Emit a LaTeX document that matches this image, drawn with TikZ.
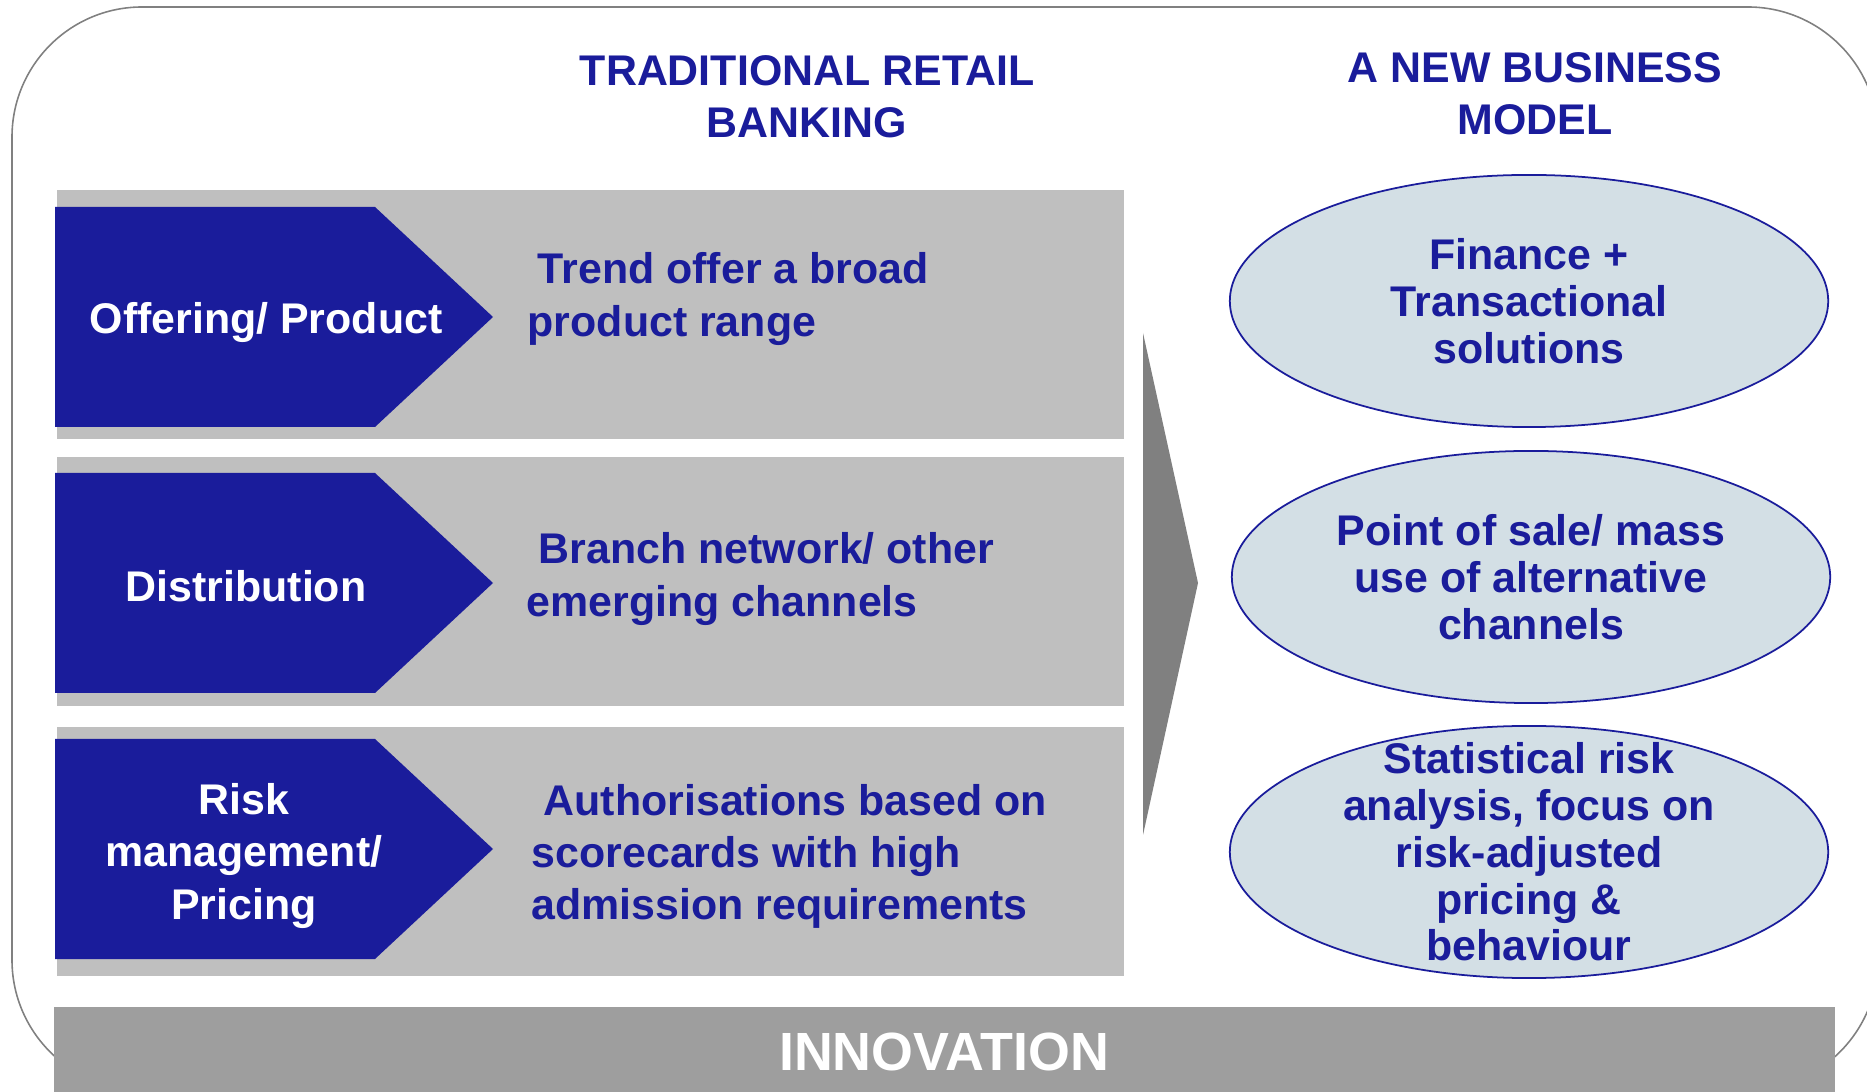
\documentclass[tikz,border=0pt]{standalone}
\usepackage{fontspec}
\setmainfont{Liberation Sans}
\definecolor{bankblue}{RGB}{26,28,155}
\definecolor{rowgray}{RGB}{191,191,191}
\definecolor{arrowgray}{RGB}{128,128,128}
\definecolor{bargray}{RGB}{158,158,158}
\definecolor{bubblefill}{RGB}{211,223,229}
\tikzset{
  heading/.style={text=bankblue, font=\bfseries\fontsize{12.2}{14.8}\selectfont, align=center, inner sep=0pt},
  tag/.style={text=white, font=\bfseries\fontsize{12.2}{14.8}\selectfont, align=center, inner sep=0pt},
  desc/.style={text=bankblue, font=\bfseries\fontsize{12.2}{14.8}\selectfont, align=left, anchor=west, inner sep=0pt},
  bubble/.style={ellipse, draw=bankblue, line width=0.5pt, fill=bubblefill, minimum width=5.98cm, minimum height=2.52cm, inner sep=0pt},
  bubbletext/.style={text=bankblue, font=\bfseries\fontsize{12.2}{13.3}\selectfont, align=center, inner sep=0pt}
}
\usetikzlibrary{shapes.geometric}
\begin{document}
\begin{tikzpicture}[x=0.01cm, y=-0.01cm]
  \useasboundingbox (0,0) rectangle (1867,1092);
  \clip (0,0) rectangle (1867,1092);
  % outer frame
  \draw[arrowgray, line width=0.45pt, rounded corners=1.3cm] (12,7) rectangle (1878,1090);

  \node[heading] (trad) at (807,97) {TRADITIONAL RETAIL\\BANKING};
  \node[heading] (newmodel) at (1535,94) {A NEW BUSINESS\\MODEL};

  % rows
  \foreach \y in {190,457,727}
    \fill[rowgray] (57,\y) rectangle ++(1067,249);
  \foreach \c in {317,583,849}
    \fill[bankblue] (55,\c-110) -- (375,\c-110) -- (493,\c) -- (375,\c+110) -- (55,\c+110) -- cycle;

  \node[tag] (offer) at (266,323) {Offering/ Product};
  \node[tag] (distrib) at (246,586) {Distribution};
  \node[tag] (risk) at (244,856) {Risk\\management/\\Pricing};

  \node[desc] (trend) at (527,299) {\hspace*{0.1cm}Trend offer a broad\\product range};
  \node[desc] (branch) at (526,579) {\hspace*{0.12cm}Branch network/ other\\emerging channels};
  \node[desc] (auth) at (531,856) {\hspace*{0.12cm}Authorisations based on\\scorecards with high\\admission requirements};

  % big arrow
  \fill[arrowgray] (1143,333) -- (1198,583) -- (1143,835) -- cycle;

  \node[bubble, label={[bubbletext]center:{Finance +\\Transactional\\solutions}}] (finance) at (1529,301) {};
  \node[bubble, label={[bubbletext]center:{Point of sale/ mass\\use of alternative\\channels}}] (pos) at (1531,577) {};
  \node[bubble, label={[bubbletext]center:{Statistical risk\\analysis, focus on\\risk-adjusted\\pricing \&\\behaviour}}] (stats) at (1529,852) {};

  % bottom bar
  \fill[bargray] (54,1007) rectangle (1835,1100);
  \node[text=white, font=\bfseries\fontsize{15.3}{18}\selectfont, inner sep=0pt] (innov) at (944,1052) {INNOVATION};
\end{tikzpicture}
\end{document}
